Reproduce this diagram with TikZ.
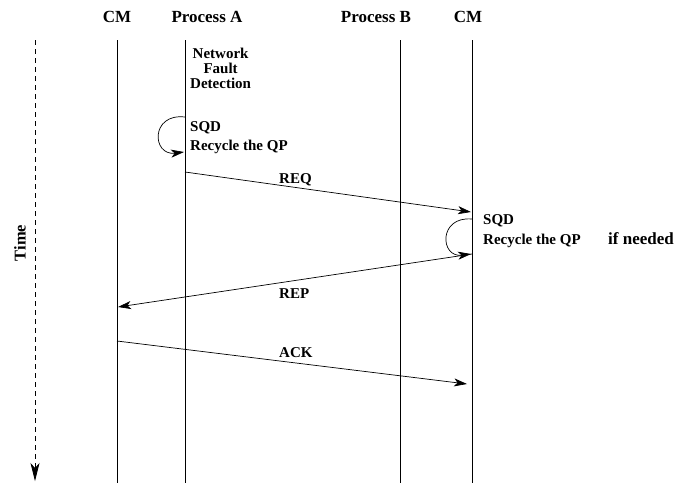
\documentclass[tikz,border=0pt]{standalone}
\usepackage{fontspec}
\setmainfont{Liberation Serif}
\usetikzlibrary{arrows.meta}
\begin{document}
\begin{tikzpicture}[x=1pt,y=-1pt,
  life/.style={line width=0.8pt},
  msg/.style={line width=0.7pt,-{Stealth[length=13pt,width=8pt,inset=3.5pt]}},
  hdr/.style={font=\fontsize{17}{18}\selectfont\bfseries,anchor=base},
  lbl/.style={font=\fontsize{15}{15}\selectfont\bfseries,anchor=base west,inner sep=0pt},
  big/.style={font=\fontsize{17}{17}\selectfont\bfseries,anchor=base west,inner sep=0pt}]
\useasboundingbox (0,0) rectangle (691,483);
% headers
\node[hdr] (hCM1) at (117,22) {CM};
\node[hdr] (hPA) at (207,22) {Process A};
\node[hdr] (hPB) at (376,22) {Process B};
\node[hdr] (hCM2) at (468,22) {CM};
% lifelines
\coordinate (cm1t) at (117,40); \coordinate (cm1b) at (117,483);
\coordinate (pat) at (185,40); \coordinate (pab) at (185,483);
\coordinate (pbt) at (400,40); \coordinate (pbb) at (400,483);
\coordinate (cm2t) at (472,40); \coordinate (cm2b) at (472,483);
\draw[life] (cm1t) -- (cm1b);
\draw[life] (pat) -- (pab);
\draw[life] (pbt) -- (pbb);
\draw[life] (cm2t) -- (cm2b);
% time axis
\coordinate (tt) at (35,40); \coordinate (tb) at (35,481);
\draw[line width=0.8pt,dash pattern=on 5pt off 4pt,-{Stealth[length=18pt,width=9pt,inset=5pt]}] (tt) -- (tb);
\node[font=\fontsize{16.5}{17}\selectfont\bfseries,rotate=90] (time) at (20,243) {Time};
% Process A notes
\node[font=\fontsize{15}{14.7}\selectfont\bfseries,align=center,anchor=north west,inner sep=0pt] (nfd) at (190,48) {Network\\Fault\\Detection};
\node[lbl] (sqdA) at (190,131) {SQD};
\node[lbl] (recA) at (190,150) {Recycle the QP};
\coordinate (loopAs) at (185,117); \coordinate (loopAe) at (184,152);
\draw[msg] (loopAs) .. controls (150,113) and (152,156) .. (loopAe);
% REQ
\coordinate (reqS) at (185,172); \coordinate (reqE) at (471,212);
\draw[msg] (reqS) -- (reqE);
\node[lbl] (req) at (279,183) {REQ};
% CM2 notes
\node[lbl] (sqdB) at (483,224) {SQD};
\node[lbl] (recB) at (483,244) {Recycle the QP};
\node[big] (ifn) at (608,244) {if needed};
\coordinate (loopBs) at (472,219); \coordinate (loopBe) at (471,254);
\draw[msg] (loopBs) .. controls (438,216) and (440,258) .. (loopBe);
% REP
\coordinate (repS) at (472,254); \coordinate (repE) at (118,307);
\draw[msg] (repS) -- (repE);
\node[lbl] (rep) at (279,298) {REP};
% ACK
\coordinate (ackS) at (117,341); \coordinate (ackE) at (467,384);
\draw[msg] (ackS) -- (ackE);
\node[lbl] (ack) at (279,357) {ACK};
\end{tikzpicture}
\end{document}
